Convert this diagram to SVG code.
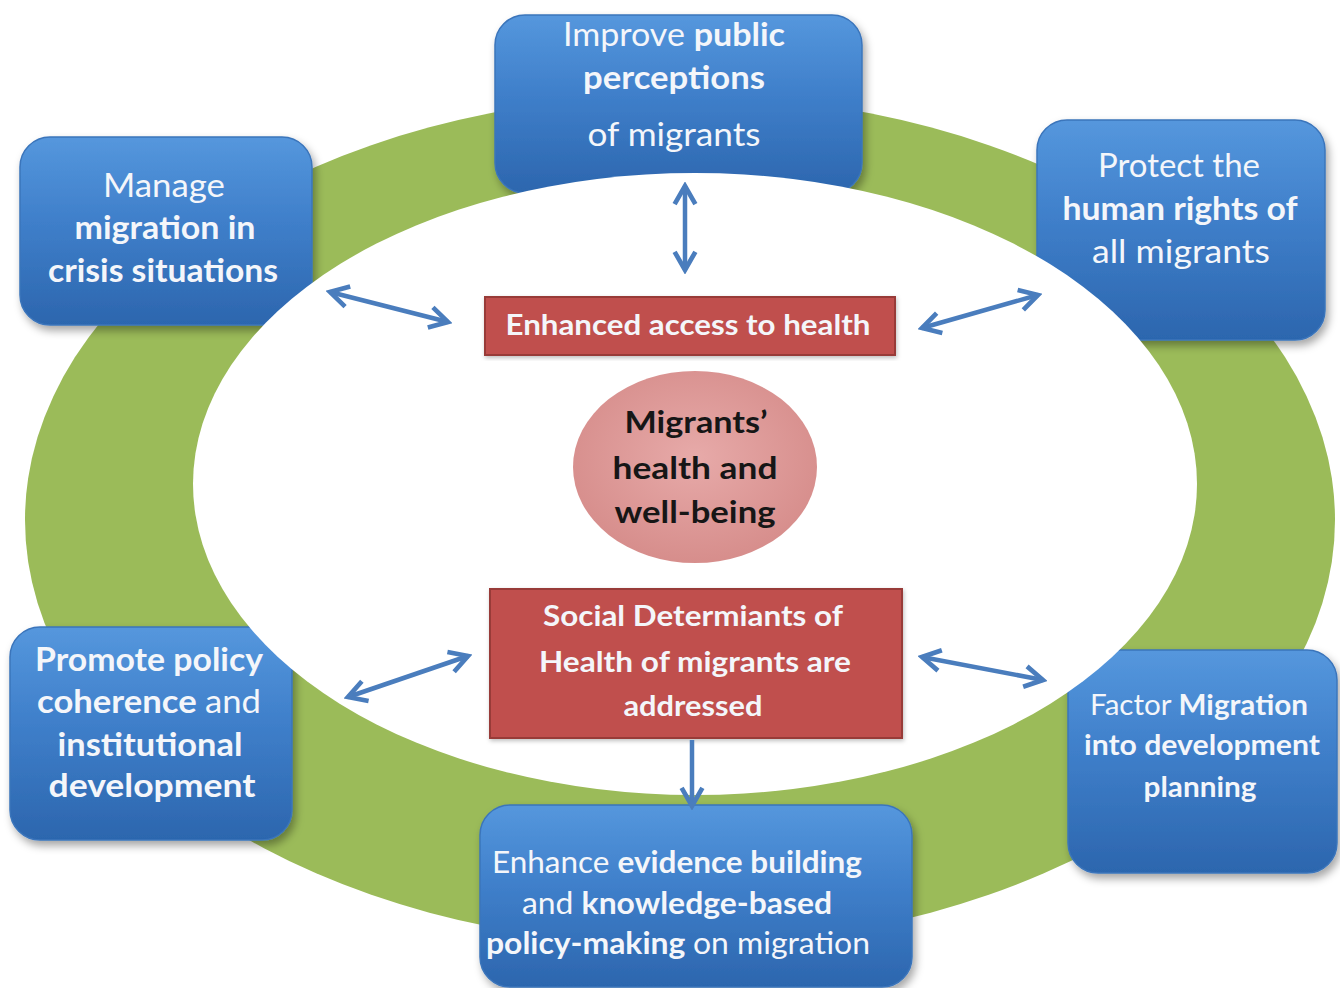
<svg xmlns="http://www.w3.org/2000/svg" width="1340" height="988" viewBox="0 0 1340 988">
  <defs>
    <linearGradient id="blueFill" x1="0" y1="0" x2="0" y2="1">
      <stop offset="0" stop-color="#5597dd"/>
      <stop offset="0.45" stop-color="#3f7fca"/>
      <stop offset="1" stop-color="#2c66ae"/>
    </linearGradient>
    <radialGradient id="pinkFill" cx="0.5" cy="0.45" r="0.6">
      <stop offset="0" stop-color="#e7aaa9"/>
      <stop offset="1" stop-color="#d58b89"/>
    </radialGradient>
    <filter id="shadow" x="-10%" y="-10%" width="125%" height="130%">
      <feDropShadow dx="3" dy="5" stdDeviation="4" flood-color="#000" flood-opacity="0.35"/>
    </filter>
    <filter id="soft" x="-5%" y="-5%" width="110%" height="115%">
      <feDropShadow dx="1" dy="2" stdDeviation="2" flood-color="#000" flood-opacity="0.25"/>
    </filter>
    <marker id="chev" viewBox="0 0 20 20" refX="17" refY="10" markerWidth="26" markerHeight="26" markerUnits="userSpaceOnUse" orient="auto-start-reverse">
      <path d="M3,2 L17,10 L3,18" fill="none" stroke="#4a7dbd" stroke-width="3.6" stroke-linejoin="miter"/>
    </marker>
    <style>
      .box { fill: url(#blueFill); stroke: #3b75bb; stroke-width: 1.5; filter: url(#shadow); }
      .red { fill: #c0504d; stroke: #983b39; stroke-width: 2; filter: url(#soft); }
      .wt { font-family: "Lato", "Open Sans", sans-serif; fill: #f4f6fa; text-anchor: middle; }
      .bt { font-family: "Lato", "Open Sans", sans-serif; fill: #161616; text-anchor: middle; font-weight: 700; }
      .b { font-weight: 700; }
      .n { font-weight: 400; }
      .link { fill: none; stroke: #4a7dbd; stroke-width: 4.5; }
    </style>
  </defs>

  <rect width="1340" height="988" fill="#ffffff"/>

  <!-- green outer ring -->
  <ellipse id="ring" cx="680" cy="520" rx="655" ry="425" fill="#9bbb59"/>

  <!-- outer goal boxes -->
  <g id="node-perceptions">
    <rect class="box" x="495" y="15" width="367" height="178" rx="30"/>
    <text class="wt" font-size="32" x="674" y="46" textLength="222" lengthAdjust="spacingAndGlyphs"><tspan class="n">Improve </tspan><tspan class="b">public</tspan></text>
    <text class="wt b" font-size="32" x="674" y="89" textLength="182" lengthAdjust="spacingAndGlyphs">perceptions</text>
    <text class="wt n" font-size="32" x="674" y="146" textLength="173" lengthAdjust="spacingAndGlyphs">of migrants</text>
  </g>

  <g id="node-crisis">
    <rect class="box" x="20" y="137" width="292" height="188" rx="30"/>
    <text class="wt n" font-size="32" x="164" y="197" textLength="122" lengthAdjust="spacingAndGlyphs">Manage</text>
    <text class="wt b" font-size="32" x="165" y="239" textLength="181" lengthAdjust="spacingAndGlyphs">migration in</text>
    <text class="wt b" font-size="32" x="163" y="282" textLength="230" lengthAdjust="spacingAndGlyphs">crisis situations</text>
  </g>

  <g id="node-rights">
    <rect class="box" x="1037" y="120" width="288" height="220" rx="30"/>
    <text class="wt n" font-size="32" x="1179" y="177" textLength="162" lengthAdjust="spacingAndGlyphs">Protect the</text>
    <text class="wt b" font-size="32" x="1180" y="220" textLength="235" lengthAdjust="spacingAndGlyphs">human rights of</text>
    <text class="wt n" font-size="32" x="1181" y="263" textLength="178" lengthAdjust="spacingAndGlyphs">all migrants</text>
  </g>

  <g id="node-coherence">
    <rect class="box" x="10" y="627" width="282" height="213" rx="30"/>
    <text class="wt b" font-size="32" x="149" y="671" textLength="228" lengthAdjust="spacingAndGlyphs">Promote policy</text>
    <text class="wt" font-size="32" x="149" y="713" textLength="224" lengthAdjust="spacingAndGlyphs"><tspan class="b">coherence </tspan><tspan class="n">and</tspan></text>
    <text class="wt b" font-size="32" x="150" y="756" textLength="185" lengthAdjust="spacingAndGlyphs">institutional</text>
    <text class="wt b" font-size="32" x="152" y="797" textLength="207" lengthAdjust="spacingAndGlyphs">development</text>
  </g>

  <g id="node-development">
    <rect class="box" x="1068" y="650" width="269" height="223" rx="30"/>
    <text class="wt" font-size="28" x="1199" y="715" textLength="218" lengthAdjust="spacingAndGlyphs"><tspan class="n">Factor </tspan><tspan class="b">Migration</tspan></text>
    <text class="wt b" font-size="28" x="1202" y="755" textLength="236" lengthAdjust="spacingAndGlyphs">into development</text>
    <text class="wt b" font-size="28" x="1200" y="797" textLength="113" lengthAdjust="spacingAndGlyphs">planning</text>
  </g>

  <g id="node-evidence">
    <rect class="box" x="480" y="805" width="432" height="182" rx="30"/>
    <text class="wt" font-size="31" x="677" y="873" textLength="370" lengthAdjust="spacingAndGlyphs"><tspan class="n">Enhance </tspan><tspan class="b">evidence building</tspan></text>
    <text class="wt" font-size="31" x="677" y="914" textLength="310" lengthAdjust="spacingAndGlyphs"><tspan class="n">and </tspan><tspan class="b">knowledge-based</tspan></text>
    <text class="wt" font-size="31" x="678" y="954" textLength="384" lengthAdjust="spacingAndGlyphs"><tspan class="b">policy-making </tspan><tspan class="n">on migration</tspan></text>
  </g>

  <!-- white inner field -->
  <ellipse id="field" cx="695" cy="484" rx="502" ry="311" fill="#ffffff"/>

  <!-- inner outcome boxes -->
  <g id="node-access">
    <rect class="red" x="485" y="297" width="410" height="58"/>
    <text class="wt b" font-size="28" x="688" y="335" textLength="365" lengthAdjust="spacingAndGlyphs">Enhanced access to health</text>
  </g>

  <g id="node-determinants">
    <rect class="red" x="490" y="589" width="412" height="149"/>
    <text class="wt b" font-size="28" x="693" y="626" textLength="300" lengthAdjust="spacingAndGlyphs">Social Determiants of</text>
    <text class="wt b" font-size="28" x="695" y="672" textLength="312" lengthAdjust="spacingAndGlyphs">Health of migrants are</text>
    <text class="wt b" font-size="28" x="693" y="716" textLength="139" lengthAdjust="spacingAndGlyphs">addressed</text>
  </g>

  <g id="node-wellbeing">
    <ellipse cx="695" cy="467" rx="122" ry="96" fill="url(#pinkFill)"/>
    <text class="bt" font-size="30" x="696" y="433" textLength="143" lengthAdjust="spacingAndGlyphs">Migrants’</text>
    <text class="bt" font-size="30" x="695" y="479" textLength="165" lengthAdjust="spacingAndGlyphs">health and</text>
    <text class="bt" font-size="30" x="695" y="523" textLength="161" lengthAdjust="spacingAndGlyphs">well-being</text>
  </g>

  <!-- connectors -->
  <g id="connectors">
    <line class="link" x1="685" y1="186" x2="685" y2="270" marker-start="url(#chev)" marker-end="url(#chev)"/>
    <line class="link" x1="330" y1="292" x2="448" y2="322" marker-start="url(#chev)" marker-end="url(#chev)"/>
    <line class="link" x1="922" y1="328" x2="1038" y2="295" marker-start="url(#chev)" marker-end="url(#chev)"/>
    <line class="link" x1="348" y1="697" x2="468" y2="656" marker-start="url(#chev)" marker-end="url(#chev)"/>
    <line class="link" x1="922" y1="657" x2="1043" y2="680" marker-start="url(#chev)" marker-end="url(#chev)"/>
    <line class="link" x1="692" y1="740" x2="692" y2="806" marker-end="url(#chev)"/>
  </g>
</svg>
